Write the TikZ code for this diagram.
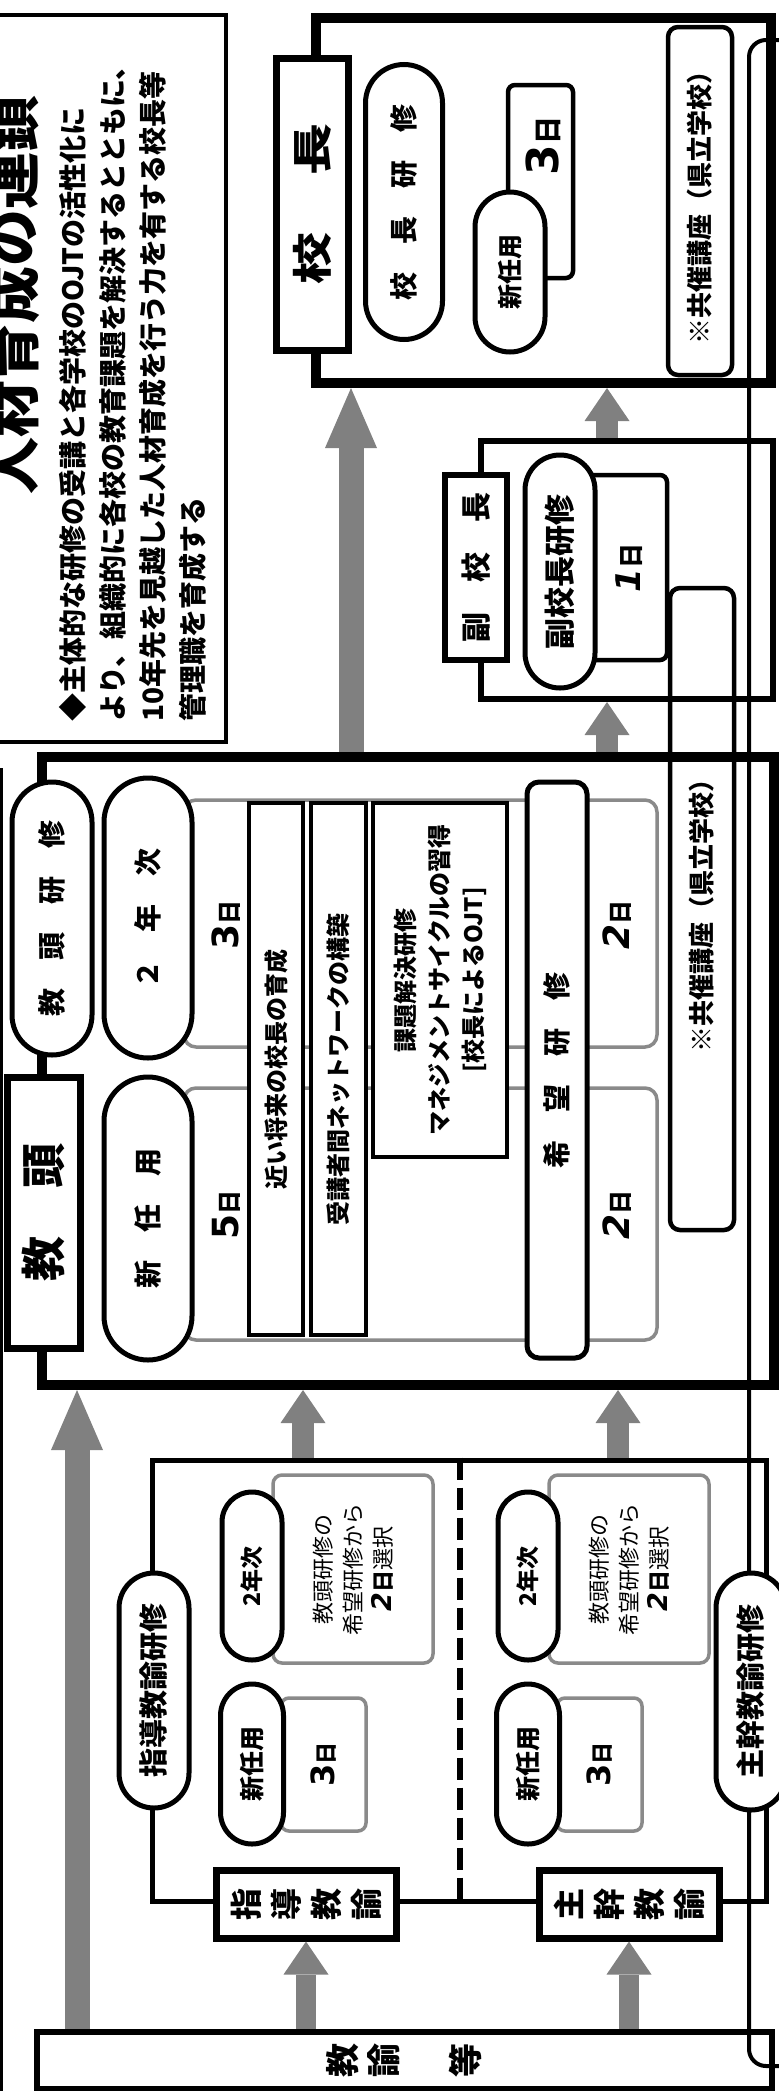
\documentclass[tikz,border=0pt]{standalone}
\usepackage{fontspec}
\usepackage{graphicx}
\setmainfont{Noto Sans CJK JP}
\newfontfamily\digitfont{DejaVu Sans}
\usetikzlibrary{arrows.meta,shapes.misc}
\definecolor{arrowgray}{RGB}{128,128,128}
\definecolor{framegray}{RGB}{138,138,138}
\newcommand\jpsize[1]{\fontsize{#1}{#1}\selectfont}
\newcommand\daynum[3]{{\digitfont\bfseries\jpsize{#1}#2}{\bfseries\jpsize{#3}日}}

\tikzstyle{chain}=[%
	every node/.style={inner sep=0pt},
	bigbox/.style={draw, line width=10pt},
	midbox/.style={draw, line width=6pt},
	labelbox/.style={draw, fill=white, line width=7pt, rotate=90},
	pill/.style={draw, fill=white, rounded rectangle, line width=5pt, rotate=90, font=\bfseries},
	tagbox/.style={draw, fill=white, rounded corners=7pt, line width=4.5pt, rotate=90},
	topicbox/.style={draw, fill=white, line width=4.5pt, rotate=90},
	graybox/.style={draw=framegray, fill=white, rounded corners=12pt, line width=3.5pt},
	vtext/.style={rotate=90},
	bigarrow/.style={draw=arrowgray, line width=25pt, -{Triangle[length=60pt, width=52pt, line width=0pt]}},
	uparrow/.style={draw=arrowgray, line width=22pt, -{Triangle[length=33pt, width=45pt, line width=0pt]}}
]

\begin{document}
\begin{tikzpicture}[x=1pt, y=-1pt, chain]
	\useasboundingbox (0,0) rectangle (779,2091);

	\draw[line width=3pt] (1.5,768) -- (1.5,2100);
	\draw[line width=4pt, rounded corners=17pt] (810,40) -- (749,40) -- (749,2066) -- (810,2066);

	\draw[line width=4pt] (-20,15) rectangle (226,742);
	\node[vtext, font=\bfseries\jpsize{57}] (title) at (12,295) {人材育成の連鎖};
	\foreach \t [count=\i] in {◆主体的な研修の受講と各学校のOJTの活性化に, より、組織的に各校の教育課題を解決するとともに、, 10年先を見越した人材育成を行う力を有する校長等, 管理職を育成する} {
		\node[vtext, anchor=west, font=\bfseries\jpsize{28}] (lead\i) at ({33+40*\i},722) {\t};
	}

	\node[bigbox, minimum width=455pt, minimum height=365pt] (kocho) at (543.5,200.5) {};
	\node[labelbox, minimum width=292pt, minimum height=72pt, font=\bfseries\jpsize{40}] (kocholabel) at (312,204) {\scalebox{1.3}[1]{校\hspace{1.1em}長}};
	\node[pill, minimum width=275pt, minimum height=77pt, font=\bfseries\jpsize{28}] (kochoken) at (404,202) {校　長　研　修};
	\node[tagbox, minimum width=193pt, minimum height=65pt] (kochodays) at (540.5,181.5) {};
	\node[vtext] (kochodaystext) at (543,146) {\daynum{44}{3}{28}};
	\node[pill, minimum width=160pt, minimum height=70pt, font=\bfseries\jpsize{25}] (kochonew) at (510,272) {新任用};
	\node[tagbox, rounded corners=10pt, minimum width=348pt, minimum height=64pt, font=\bfseries\jpsize{26}] (kochojoint) at (700,201) {※共催講座（県立学校）};

	\node[midbox, minimum width=292pt, minimum height=258pt] (fuku) at (627,570) {};
	\node[labelbox, line width=6pt, minimum width=185pt, minimum height=62pt, font=\bfseries\jpsize{30}] (fukulabel) at (476,567.5) {副　校　長};
	\node[tagbox, minimum width=185pt, minimum height=107pt] (fukudays) at (613.5,567.5) {};
	\node[vtext] (fukudaystext) at (629,568) {\daynum{34}{\itshape 1}{25}};
	\node[pill, minimum width=233pt, minimum height=70pt, font=\bfseries\jpsize{31}] (fukuken) at (560,571.5) {副校長研修};

	\node[bigbox, minimum width=732pt, minimum height=628pt] (kyoto) at (408,1071) {};
	\node[graybox, minimum width=473pt, minimum height=247pt] (kyotoupper) at (420.5,923.5) {};
	\node[graybox, minimum width=473pt, minimum height=252pt] (kyotolower) at (420.5,1214) {};
	\node[vtext] (days3) at (226,925) {\daynum{36}{3}{24}};
	\node[vtext] (days5) at (226,1215) {\daynum{36}{5}{24}};
	\node[vtext] (hope2a) at (617,925) {\daynum{36}{\itshape 2}{24}};
	\node[vtext] (hope2b) at (617,1215) {\daynum{36}{\itshape 2}{24}};
	\node[topicbox, minimum width=532pt, minimum height=54pt, font=\bfseries\jpsize{24}] (aimnear) at (276,1069) {近い将来の校長の育成};
	\node[topicbox, minimum width=532pt, minimum height=55pt, font=\bfseries\jpsize{24}] (aimnet) at (338.5,1069) {受講者間ネットワークの構築};
	\node[topicbox, minimum width=354pt, minimum height=134pt, align=center, font=\bfseries\fontsize{24}{34}\selectfont] (ojt) at (440,980) {課題解決研修\\マネジメントサイクルの習得\\\relax[校長によるOJT]};
	\node[pill, minimum width=273pt, minimum height=80pt, font=\bfseries\jpsize{28}] (kyotoken) at (52,918.5) {教　頭　研　修};
	\node[pill, minimum width=280pt, minimum height=88pt, font=\bfseries\jpsize{28}] (kyotosecond) at (148,918) {２　年　次};
	\node[pill, minimum width=283pt, minimum height=88pt, font=\bfseries\jpsize{28}] (kyotonew) at (148,1218.5) {新　任　用};
	\node[tagbox, rounded corners=12pt, line width=5pt, minimum width=576pt, minimum height=60pt, font=\bfseries\jpsize{28}] (hope) at (557,1070) {希　望　研　修};
	\node[labelbox, minimum width=271pt, minimum height=73pt, font=\bfseries\jpsize{45}] (kyotolabel) at (43.5,1212.5) {教\hspace{1.05em}頭};
	\node[tagbox, fill=none, rounded corners=10pt, minimum width=642pt, minimum height=64pt, font=\bfseries\jpsize{26}] (kyotojoint) at (702,909) {※共催講座（県立学校）};

	\node[draw, line width=5pt, minimum width=614pt, minimum height=441pt] (shido) at (459,1680.5) {};
	\coordinate (split) at (460,0);
	\draw[line width=6pt, dash pattern=on 22pt off 8pt] (shido.north -| split) -- (shido.south -| split);
	\foreach \dx/\nm in {0/a, 276/b} {
		\begin{scope}[xshift=\dx]
			\node[graybox, rotate=90, rounded corners=9pt, minimum width=188pt, minimum height=160pt, align=center, font=\fontsize{22}{30}\selectfont] (choice\nm) at (353,1569) {教頭研修の\\希望研修から\\{\digitfont\bfseries\itshape\jpsize{27}2}{\bfseries 日}選択};
			\node[pill, minimum width=168pt, minimum height=60pt, font=\bfseries\jpsize{23}] (second\nm) at (252,1576) {2年次};
			\node[graybox, rotate=90, rounded corners=8pt, minimum width=133pt, minimum height=85pt] (three\nm) at (323.5,1764.5) {\daynum{32}{3}{22}};
			\node[pill, minimum width=160pt, minimum height=63pt, font=\bfseries\jpsize{25}] (new\nm) at (252,1764) {新任用};
		\end{scope}
	}
	\node[labelbox, minimum width=68pt, minimum height=180pt, align=center, font=\bfseries\fontsize{32}{40}\selectfont] (shidolabel) at (306,1904) {指\\導\\教\\諭};
	\node[labelbox, minimum width=68pt, minimum height=180pt, align=center, font=\bfseries\fontsize{32}{40}\selectfont] (shukanlabel) at (629,1904) {主\\幹\\教\\諭};
	\node[pill, minimum width=235pt, minimum height=70pt, font=\bfseries\jpsize{29}] (shidoken) at (154,1690.5) {指導教諭研修};
	\node[pill, minimum width=237pt, minimum height=70pt, font=\bfseries\jpsize{29}] (shukanken) at (751,1691.5) {主幹教諭研修};

	\node[draw, line width=6pt, minimum width=735pt, minimum height=57pt] (kyoyu) at (404.5,2060.5) {};
	\node[vtext, align=center, font=\bfseries\fontsize{34}{41}\selectfont] (kyoyutext) at (kyoyu) {教\\諭\\　\\等};

	\coordinate (colA) at (351,0);
	\coordinate (colB) at (607,0);
	\coordinate (colC) at (77,0);
	\coordinate (colD) at (303,0);
	\coordinate (colE) at (618,0);
	\draw[bigarrow] (kyoto.north -| colA) -- (kocho.south -| colA);
	\draw[uparrow] (fuku.north -| colB) -- (kocho.south -| colB);
	\draw[uparrow] (kyoto.north -| colB) -- (fuku.south -| colB);
	\draw[bigarrow] (kyoyu.north -| colC) -- (kyoto.south -| colC);
	\draw[uparrow] (shido.north -| colD) -- (kyoto.south -| colD);
	\draw[uparrow] (shido.north -| colE) -- (kyoto.south -| colE);
	\draw[uparrow, line width=20pt] (kyoyu.north -| shidolabel) -- (shidolabel.west);
	\draw[uparrow, line width=20pt] (kyoyu.north -| shukanlabel) -- (shukanlabel.west);
\end{tikzpicture}
\end{document}
